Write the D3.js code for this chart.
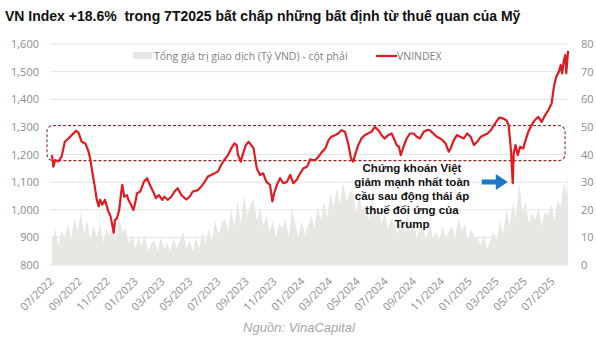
<!DOCTYPE html>
<html>
<head>
<meta charset="utf-8">
<script src="https://cdn.jsdelivr.net/npm/d3@7/dist/d3.min.js"></script>
<style>
  html, body { margin: 0; padding: 0; background: #fff; }
  svg { display: block; }
  .tick text { fill: #8c8c8c; font-family: "Open Sans", sans-serif; font-size: 11px; }
</style>
</head>
<body>
<svg id="chart" width="596" height="341"></svg>
<script>
// VN-Index closing levels (points), roughly weekly
const vnDates = [
  "2022-07-01","2022-07-04","2022-07-08","2022-07-15","2022-07-22","2022-07-29","2022-08-06","2022-08-13","2022-08-23","2022-08-28",
  "2022-09-04","2022-09-12","2022-09-19","2022-09-23","2022-09-27","2022-10-02","2022-10-07","2022-10-11","2022-10-14","2022-10-19",
  "2022-10-25","2022-11-01","2022-11-06","2022-11-09","2022-11-13","2022-11-16","2022-11-20","2022-11-25","2022-11-30","2022-12-02",
  "2022-12-06","2022-12-12","2022-12-15","2022-12-21","2022-12-26","2022-12-30","2023-01-03","2023-01-10","2023-01-18","2023-01-25",
  "2023-02-02","2023-02-09","2023-02-13","2023-02-20","2023-02-27","2023-03-04","2023-03-11","2023-03-19","2023-03-26","2023-04-02",
  "2023-04-10","2023-04-21","2023-04-28","2023-05-05","2023-05-16","2023-05-23","2023-05-31","2023-06-07","2023-06-14","2023-06-22",
  "2023-06-29","2023-07-06","2023-07-13","2023-07-21","2023-07-28","2023-08-04","2023-08-09","2023-08-12","2023-08-18","2023-08-23",
  "2023-08-29","2023-09-04","2023-09-10","2023-09-15","2023-09-22","2023-09-29","2023-10-06","2023-10-13","2023-10-21","2023-10-26",
  "2023-10-30","2023-11-05","2023-11-12","2023-11-19","2023-11-27","2023-12-04","2023-12-11","2023-12-18","2023-12-26","2024-01-02",
  "2024-01-10","2024-01-17","2024-01-21","2024-01-28","2024-02-04","2024-02-12","2024-02-19","2024-02-26","2024-03-03","2024-03-11",
  "2024-03-18","2024-03-25","2024-04-02","2024-04-06","2024-04-09","2024-04-15","2024-04-20","2024-04-25","2024-05-01","2024-05-08",
  "2024-05-15","2024-05-22","2024-05-30","2024-06-06","2024-06-14","2024-06-21","2024-06-28","2024-07-05","2024-07-13","2024-07-18",
  "2024-07-24","2024-07-29","2024-08-02","2024-08-08","2024-08-15","2024-08-22","2024-08-30","2024-09-06","2024-09-13","2024-09-21",
  "2024-09-28","2024-10-05","2024-10-12","2024-10-20","2024-10-27","2024-11-01","2024-11-08","2024-11-15","2024-11-19","2024-11-26",
  "2024-12-03","2024-12-10","2024-12-18","2024-12-25","2025-01-02","2025-01-09","2025-01-16","2025-01-24","2025-01-31","2025-02-08",
  "2025-02-15","2025-02-22","2025-03-01","2025-03-06","2025-03-14","2025-03-21","2025-03-26","2025-03-31","2025-04-04","2025-04-06",
  "2025-04-10","2025-04-15","2025-04-20","2025-04-27","2025-05-02","2025-05-08","2025-05-15","2025-05-22","2025-05-30","2025-06-06",
  "2025-06-14","2025-06-21","2025-06-28","2025-07-03","2025-07-08","2025-07-14","2025-07-18","2025-07-21","2025-07-25","2025-07-28",
  "2025-07-30","2025-08-03"
];
const vnValues = [
  1198,1156,1180,1175,1192,1246,1258,1270,1286,1279,
  1246,1240,1210,1181,1138,1090,1036,1012,1036,1018,
  1036,995,977,953,917,963,969,999,1071,1090,
  1047,1053,1036,1018,999,1024,1060,1066,1101,1114,
  1083,1060,1042,1053,1036,1047,1036,1047,1066,1078,
  1053,1037,1047,1066,1071,1083,1101,1120,1126,1132,
  1138,1162,1180,1198,1222,1240,1234,1198,1174,1204,
  1234,1246,1234,1222,1150,1126,1132,1101,1090,1030,
  1060,1090,1114,1096,1101,1126,1096,1108,1132,1150,
  1156,1183,1180,1180,1192,1210,1222,1252,1264,1270,
  1276,1288,1282,1258,1240,1186,1174,1204,1234,1258,
  1270,1276,1282,1300,1288,1270,1258,1270,1276,1258,
  1234,1228,1198,1228,1258,1276,1276,1264,1258,1282,
  1288,1288,1276,1264,1258,1252,1240,1210,1222,1252,
  1270,1264,1258,1276,1264,1234,1246,1264,1270,1276,
  1288,1306,1324,1334,1330,1324,1306,1216,1096,1204,
  1234,1198,1228,1222,1252,1282,1306,1324,1336,1318,
  1343,1361,1385,1445,1481,1500,1524,1494,1542,1560,
  1494,1575
];

// Total traded value, right axis, weekly from 07/2022
const volStart = "2022-07-01";
const volValues = [
  9,13,7,12,10, 15,9,17,12,19, 11,16,9,14, 10,15,8,13,11, 14,9,17,12,
  13,8,11,6,10, 7,11,5,8, 9,5,10,6, 8,5,10,6,9, 12,6,9,5, 10,6,12,8,
  13,9,16,11,15, 17,12,20,14, 23,15,25,18,22, 24,16,21,14, 18,12,16,10,15,
  13,17,10,21, 15,10,16,11,14, 18,13,21,16, 23,17,26,21, 28,22,30,23,26,
  27,19,25,20, 22,16,24,18, 21,15,19,13,17, 15,11,17,12, 18,12,16,10,14,
  13,9,15,10, 12,9,14,10,12, 14,10,17,12, 15,9,13,10, 10,7,11,6,9,
  12,9,16,11, 20,14,22,17, 30,19,23,15,19, 16,21,14,19, 18,22,16,24,21,
  30,25,36,32,39
];

const leftTicks = [800, 900, 1000, 1100, 1200, 1300, 1400, 1500, 1600];
const rightTicks = [0, 10, 20, 30, 40, 50, 60, 70, 80];
const monthTicks = ["2022-07","2022-09","2022-11","2023-01","2023-03","2023-05","2023-07","2023-09","2023-11",
  "2024-01","2024-03","2024-05","2024-07","2024-09","2024-11","2025-01","2025-03","2025-05","2025-07"];

// Highlighted trading band
const bandLow = 1178, bandHigh = 1305;

const titleText = "VN Index +18.6%  trong 7T2025 bất chấp những bất định từ thuế quan của Mỹ";
const legendVol = "Tổng giá trị giao dịch (Tỷ VND) - cột phải";
const legendIdx = "VNINDEX";
const noteLines = ["Chứng khoán Việt", "giảm mạnh nhất toàn", "cầu sau động thái áp", "thuế đối ứng của", "Trump"];
const sourceText = "Nguồn: VinaCapital";

const parse = d3.timeParse("%Y-%m-%d");
const parseM = d3.timeParse("%Y-%m");

const svg = d3.select("#chart");

const x = d3.scaleTime()
  .domain([parse("2022-07-01"), parse("2025-07-01")])
  .range([52, 553]);
const yL = d3.scaleLinear().domain([800, 1600]).range([265, 44]);
const yR = d3.scaleLinear().domain([0, 80]).range([265, 44]);

const vn = vnDates.map((d, i) => ({ date: parse(d), v: vnValues[i] }));
const vol0 = parse(volStart);
const vol = volValues.map((v, i) => ({ date: d3.timeDay.offset(vol0, i * 7), v }));

const plotL = 50, plotR = 568;

// title
svg.append("text")
  .attr("x", 5).attr("y", 21)
  .attr("font-family", "Liberation Sans, Arial, sans-serif")
  .attr("font-weight", "bold")
  .attr("font-size", 14)
  .attr("fill", "#111")
  .style("white-space", "pre")
  .text(titleText);

// gridlines
svg.append("g").selectAll("line").data(leftTicks).join("line")
  .attr("x1", plotL).attr("x2", plotR)
  .attr("y1", d => yL(d)).attr("y2", d => yL(d))
  .attr("stroke", "#e3e3e3").attr("stroke-width", 1);

// traded value area
svg.append("path")
  .datum(vol)
  .attr("fill", "#e9e7e4")
  .attr("d", d3.area().x(d => Math.min(x(d.date), plotR)).y0(yR(0)).y1(d => yR(d.v)));

// band box
svg.append("rect")
  .attr("x", 47).attr("width", 565 - 47)
  .attr("y", yL(bandHigh)).attr("height", yL(bandLow) - yL(bandHigh))
  .attr("rx", 6).attr("ry", 6)
  .attr("fill", "none")
  .attr("stroke", "#8e2a2a")
  .attr("stroke-width", 1.1)
  .attr("stroke-dasharray", "3,2");

// index line
svg.append("path")
  .datum(vn)
  .attr("fill", "none")
  .attr("stroke", "#e01b22")
  .attr("stroke-width", 2.2)
  .attr("stroke-linejoin", "round")
  .attr("d", d3.line().x(d => x(d.date)).y(d => yL(d.v)));

// axes
const axL = svg.append("g").attr("transform", `translate(${plotL - 8},0)`)
  .call(d3.axisLeft(yL).tickValues(leftTicks).tickFormat(d3.format(",")).tickSize(0));
axL.select(".domain").remove();

const axR = svg.append("g").attr("transform", `translate(${plotR + 10},0)`)
  .call(d3.axisRight(yR).tickValues(rightTicks).tickSize(0));
axR.select(".domain").remove();

const axB = svg.append("g").attr("transform", `translate(0,${yL(800)})`)
  .call(d3.axisBottom(x).tickValues(monthTicks.map(parseM)).tickFormat(d3.timeFormat("%m/%Y")).tickSize(0));
axB.select(".domain").remove();
axB.selectAll("text")
  .attr("text-anchor", "end")
  .attr("dy", null).attr("y", 0).attr("x", 0)
  .attr("transform", "translate(2,17) rotate(-45)");

// legend
const lg = svg.append("g").attr("font-family", "Open Sans, sans-serif").attr("font-size", 10.5).attr("fill", "#808080");
lg.append("rect").attr("x", 133).attr("y", 52).attr("width", 19).attr("height", 7).attr("fill", "#e9e7e4");
lg.append("text").attr("x", 154).attr("y", 60).text(legendVol);
lg.append("line").attr("x1", 376).attr("x2", 397).attr("y1", 56).attr("y2", 56).attr("stroke", "#e01b22").attr("stroke-width", 2.2);
lg.append("text").attr("x", 397).attr("y", 60).text(legendIdx);

// annotation
const crash = vn.reduce((a, b) => (b.date > parse("2025-01-01") && b.v < a.v ? b : a), { v: Infinity });
const note = svg.append("text")
  .attr("font-family", "Liberation Sans, Arial, sans-serif")
  .attr("font-weight", "bold").attr("font-size", 11.5)
  .attr("fill", "#111").attr("text-anchor", "middle");
noteLines.forEach((t, i) => note.append("tspan").attr("x", 412).attr("y", 172 + i * 14).text(t));

const tipX = x(crash.date) - 5, tipY = 182;
svg.append("path")
  .attr("fill", "#1c78c8")
  .attr("d", `M${tipX - 26},${tipY - 2.5} L${tipX - 12},${tipY - 2.5} L${tipX - 12},${tipY - 8} L${tipX},${tipY} L${tipX - 12},${tipY + 8} L${tipX - 12},${tipY + 2.5} L${tipX - 26},${tipY + 2.5} Z`);

// source
svg.append("text")
  .attr("x", 299).attr("y", 332)
  .attr("text-anchor", "middle")
  .attr("font-family", "Liberation Sans, Arial, sans-serif")
  .attr("font-style", "italic").attr("font-size", 13)
  .attr("fill", "#a6a6a6")
  .text(sourceText);
</script>
</body>
</html>
